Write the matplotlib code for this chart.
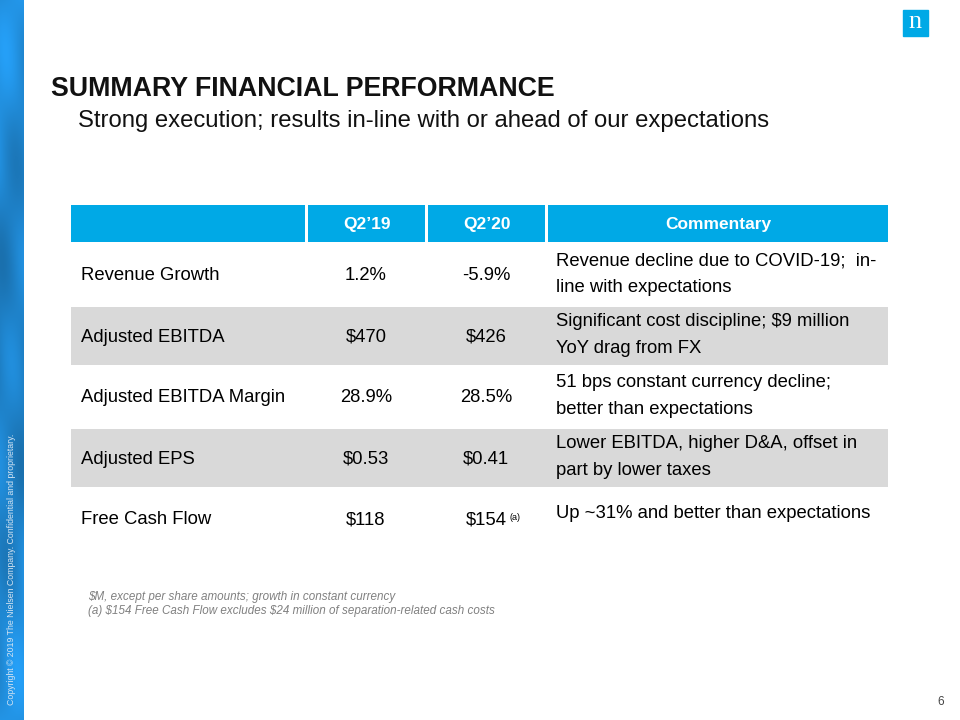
import numpy as np
import matplotlib
matplotlib.use("Agg")
from matplotlib import pyplot as plt
from matplotlib.patches import Rectangle

plt.rcParams['font.family'] = ['Liberation Sans', 'DejaVu Sans']
plt.rcParams['text.parse_math'] = False

title = "SUMMARY FINANCIAL PERFORMANCE"
subtitle = "Strong execution; results in-line with or ahead of our expectations"
headers = ["", "Q2\u201919", "Q2\u201920", "Commentary"]
metrics = ["Revenue Growth", "Adjusted EBITDA", "Adjusted EBITDA Margin",
           "Adjusted EPS", "Free Cash Flow"]
q2_19 = ["1.2%", "$470", "28.9%", "$0.53", "$118"]
q2_20 = ["-5.9%", "$426", "28.5%", "$0.41", "$154"]
q2_20_marks = ["", "", "", "", "(a)"]
commentary = [
    "Revenue decline due to COVID-19;  in-\nline with expectations",
    "Significant cost discipline; $9 million\nYoY drag from FX",
    "51 bps constant currency decline;\nbetter than expectations",
    "Lower EBITDA, higher D&A, offset in\npart by lower taxes",
    "Up ~31% and better than expectations",
]
footnotes = ["$M, except per share amounts; growth in constant currency",
             "(a) $154 Free Cash Flow excludes $24 million of separation-related cash costs"]
copyright_txt = "Copyright \u00a9 2019 The Nielsen Company. Confidential and proprietary."

BLUE = "#00a9e6"
GRAY = "#d9d9d9"

fig = plt.figure(figsize=(9.6, 7.2), dpi=100)
ax = fig.add_axes([0, 0, 1, 1])
ax.set_xlim(0, 960)
ax.set_ylim(720, 0)
ax.axis("off")

# left decorative strip: blue gradient with soft diagonal waves
yy, xx = np.mgrid[0:720, 0:24].astype(float)
base = 0.88 + 0.06 * np.cos(yy / 720.0 * 2 * np.pi)
streak = 0.07 * np.sin(yy / 55.0 + xx / 9.0) + 0.04 * np.sin(yy / 23.0 - xx / 7.0)
shade = base + streak
rgb = np.zeros((720, 24, 3))
rgb[..., 0] = 0.14 * shade
rgb[..., 1] = 0.60 * shade
rgb[..., 2] = 0.93 * shade
ax.imshow(np.clip(rgb, 0, 1), extent=(0, 24, 720, 0), aspect="auto", zorder=0)
ax.text(12, 705, copyright_txt, rotation=90, ha="center", va="bottom",
        fontsize=6.3, color="#d5e4f2")

# logo
ax.add_patch(Rectangle((903, 10), 25, 26, color=BLUE))
ax.text(915.5, 22, "n", ha="center", va="center", color="white",
        fontsize=19, family="Liberation Serif")

ax.text(51, 89, title, fontsize=19.3, fontweight="bold", va="center", color="#111111")
ax.text(78, 121, subtitle, fontsize=17.2, va="center", color="#111111")

# table geometry
col_edges = [(71, 305), (308, 425), (428, 545), (548, 888)]
header_top, header_bot = 205, 242
row_h = 61
row_top0 = 246

for (x0, x1), h in zip(col_edges, headers):
    ax.add_patch(Rectangle((x0, header_top), x1 - x0, header_bot - header_top,
                           color=BLUE, lw=0))
    ax.text((x0 + x1) / 2, (header_top + header_bot) / 2 + 1, h, ha="center",
            va="center", color="white", fontsize=12.5, fontweight="bold")

fs = 13.3
for i, (m, a, b, mk, c) in enumerate(zip(metrics, q2_19, q2_20, q2_20_marks, commentary)):
    top = row_top0 + i * row_h
    if i % 2 == 1:
        ax.add_patch(Rectangle((71, top), 888 - 71, 58, color=GRAY, lw=0))
    yc = top + 30
    ax.text(81, yc, m, va="center", fontsize=fs, color="black")
    ax.text(366, yc, a, va="center", ha="center", fontsize=fs, color="black")
    ax.text(486, yc, b, va="center", ha="center", fontsize=fs, color="black")
    if mk:
        ax.text(509, yc - 2, mk, va="center", ha="left", fontsize=6.5, color="black")
    cy = top + 24 if "\n" not in c else yc - 2
    ax.text(556, cy, c, va="center", ha="left", fontsize=fs, color="black",
            linespacing=1.7)

ax.text(88, 597, footnotes[0], fontsize=8.4, style="italic", color="#808080", va="center")
ax.text(88, 611, footnotes[1], fontsize=8.4, style="italic", color="#808080", va="center")
ax.text(944, 702, "6", fontsize=8.5, color="#444444", ha="right", va="center")

fig.savefig("out.png", dpi=100)
